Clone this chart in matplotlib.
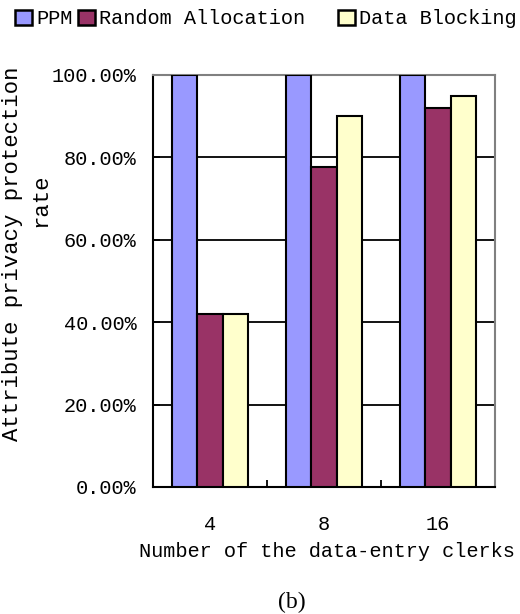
import matplotlib
matplotlib.use("Agg")
import matplotlib.pyplot as plt
from matplotlib.patches import Patch
import numpy as np

categories = ["4", "8", "16"]
series_names = ["PPM", "Random Allocation", "Data Blocking"]
ppm = [100.0, 100.0, 100.0]
random_alloc = [42.0, 77.6, 92.0]
data_blocking = [42.0, 90.0, 95.0]
yticks = [0, 20, 40, 60, 80, 100]
ytick_labels = ["0.00%", "20.00%", "40.00%", "60.00%", "80.00%", "100.00%"]
colors = ["#9999FF", "#993366", "#FFFFCC"]

MONO = "Liberation Mono"
FS = 14.6

fig = plt.figure(figsize=(5.2, 6.14), dpi=100)
ax = fig.add_axes([153/520, (614-487)/614, (495-153)/520, (487-75)/614])

x = np.arange(len(categories))
w = 1/4.5
for i, (vals, c) in enumerate(zip([ppm, random_alloc, data_blocking], colors)):
    ax.bar(x + (i-1)*w, vals, width=w, color=c, edgecolor="black", linewidth=1.5, zorder=3)

ax.set_xlim(-0.5, len(categories)-0.5)
ax.set_ylim(0, 100)
ax.set_yticks(yticks)
ax.set_yticklabels(ytick_labels, fontfamily=MONO, fontsize=FS)
ax.yaxis.grid(True, color="black", linewidth=1.3, zorder=0)
ax.set_axisbelow(True)
ax.tick_params(axis="y", direction="in", length=5, width=1.3, pad=12)

ax.set_xticks(x)
ax.set_xticklabels(categories, fontfamily=MONO, fontsize=FS)
ax.set_xticks([0.5, 1.5], minor=True)
ax.tick_params(axis="x", which="major", length=0, pad=20)
ax.tick_params(axis="x", which="minor", direction="in", length=5, width=1.3)

for s in ["top", "right"]:
    ax.spines[s].set_color("#808080")
    ax.spines[s].set_linewidth(1.5)
for s in ["left", "bottom"]:
    ax.spines[s].set_color("black")
    ax.spines[s].set_linewidth(1.5)

ax.set_xlabel("Number of the data-entry clerks", fontfamily=MONO, fontsize=FS,
              labelpad=6, x=0.51)

fig.text(13/520, (614-254)/614, "Attribute privacy protection", rotation=90,
         ha="center", va="center", fontfamily=MONO, fontsize=16)
fig.text(41/520, (614-200)/614, "rate", rotation=90,
         ha="center", va="center", fontfamily=MONO, fontsize=16)

legend_x = [15, 78, 338]
for name, c, lx in zip(series_names, colors, legend_x):
    h = Patch(facecolor=c, edgecolor="black", linewidth=1.8)
    fig.legend([h], [name], loc="center left", bbox_to_anchor=(lx/520, (614-19)/614),
               frameon=False, prop={"family": MONO, "size": FS},
               handlelength=0.85, handleheight=0.72, handletextpad=0.2,
               borderpad=0, borderaxespad=0)

fig.text(292/520, (614-602)/614, "(b)", ha="center", va="center",
         fontfamily="Liberation Serif", fontsize=17)

fig.savefig("out.png", dpi=100)
